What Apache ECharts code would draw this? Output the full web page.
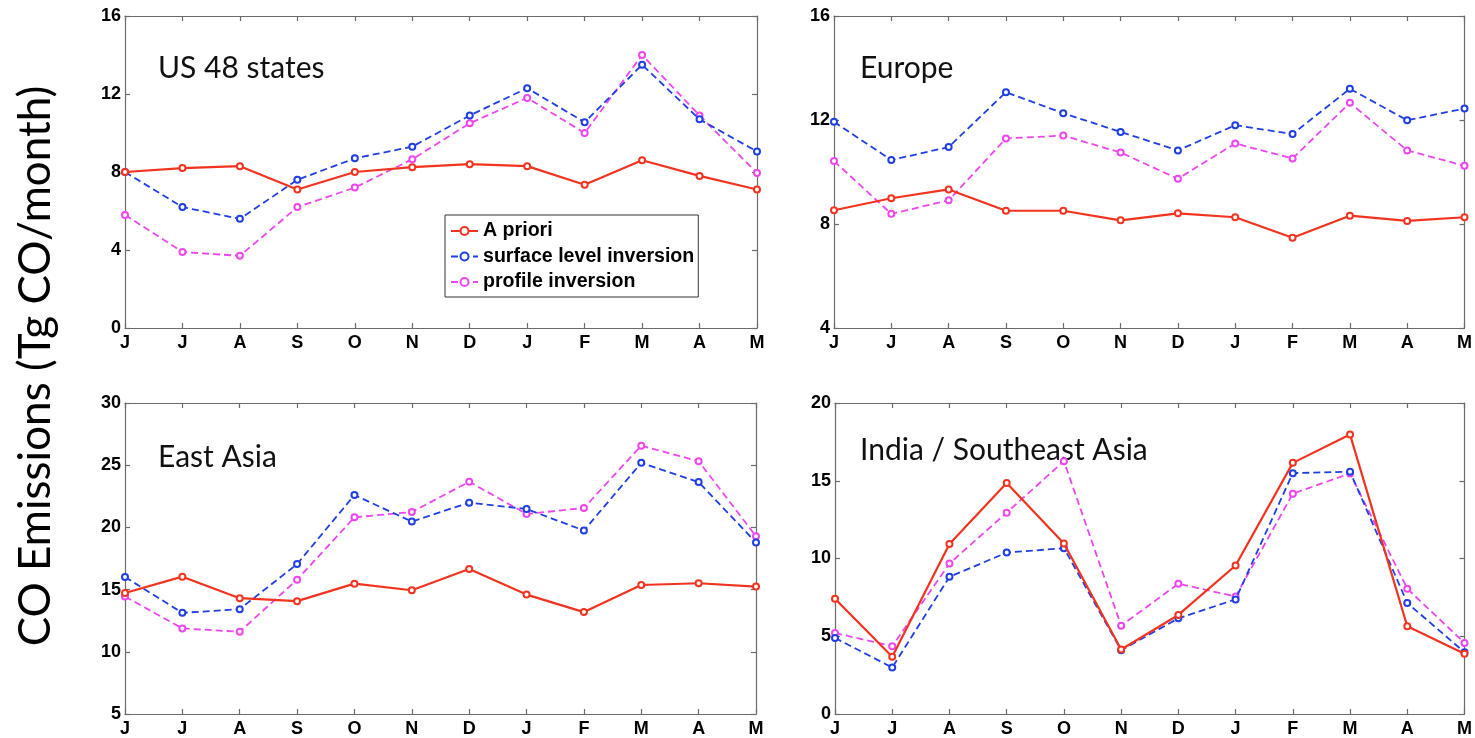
<!DOCTYPE html>
<html>
<head>
<meta charset="utf-8">
<script src="https://cdn.jsdelivr.net/npm/echarts@6/dist/echarts.min.js"></script>
<style>html,body{margin:0;padding:0;background:#fff;}#c{width:1475px;height:738px;}</style>
</head>
<body>
<div id="c"></div>
<script>
var months = ['J','J','A','S','O','N','D','J','F','M','A','M'];
var seriesNames = ['A priori','surface level inversion','profile inversion'];
var panelTitles = ['US 48 states','Europe','East Asia','India / Southeast Asia'];

var usApriori  = [8.0, 8.2, 8.3, 7.1, 8.0, 8.25, 8.4, 8.3, 7.35, 8.6, 7.8, 7.1];
var usSurface  = [8.0, 6.2, 5.6, 7.6, 8.7, 9.3, 10.9, 12.3, 10.55, 13.5, 10.7, 9.05];
var usProfile  = [5.8, 3.9, 3.7, 6.2, 7.2, 8.65, 10.5, 11.8, 10.0, 14.0, 10.9, 7.95];

var euApriori  = [8.53, 8.99, 9.33, 8.51, 8.51, 8.14, 8.41, 8.26, 7.47, 8.32, 8.12, 8.26];
var euSurface  = [11.93, 10.46, 10.96, 13.07, 12.26, 11.54, 10.83, 11.8, 11.46, 13.2, 11.99, 12.44];
var euProfile  = [10.42, 8.39, 8.91, 11.29, 11.4, 10.75, 9.74, 11.1, 10.52, 12.66, 10.83, 10.24];

var eaApriori  = [14.73, 16.04, 14.31, 14.07, 15.48, 14.95, 16.65, 14.6, 13.19, 15.37, 15.51, 15.24];
var eaSurface  = [16.01, 13.13, 13.43, 17.05, 22.6, 20.47, 21.99, 21.48, 19.75, 25.19, 23.64, 18.79];
var eaProfile  = [14.44, 11.88, 11.61, 15.8, 20.81, 21.24, 23.67, 21.08, 21.56, 26.57, 25.32, 19.29];

var inApriori  = [7.41, 3.68, 10.94, 14.85, 10.96, 4.15, 6.37, 9.55, 16.15, 17.97, 5.64, 3.87];
var inSurface  = [4.89, 2.99, 8.82, 10.38, 10.66, 4.1, 6.15, 7.37, 15.49, 15.58, 7.14, 3.97];
var inProfile  = [5.21, 4.36, 9.68, 12.95, 16.26, 5.68, 8.38, 7.56, 14.17, 15.47, 8.06, 4.57];

var yMins = [0, 4, 5, 0];
var yMaxs = [16, 16, 30, 20];
var yIntervals = [4, 4, 5, 5];

var panelData = [
  [usApriori, usSurface, usProfile],
  [euApriori, euSurface, euProfile],
  [eaApriori, eaSurface, eaProfile],
  [inApriori, inSurface, inProfile]
];

var colors = ['#f2331f', '#1f3fe3', '#ee46ee'];
var grids = [
  {left:125, top:16, width:632, height:312},
  {left:834, top:16, width:632, height:312},
  {left:125, top:403, width:631, height:311},
  {left:835, top:403, width:631, height:311}
];
var titlePos = [[158,68],[860,68],[158,457],[860,450]];

var axisLineStyle = {color:'#6b6b6b', width:1.2};
var labelFont = {color:'#000', fontFamily:'Liberation Sans, Arial, sans-serif', fontWeight:'bold', fontSize:18};

var xAxes = [], yAxes = [], series = [], graphics = [];
for (var p = 0; p < 4; p++) {
  xAxes.push({
    gridIndex:p, type:'category', data:months, boundaryGap:false, position:'bottom',
    axisLine:{show:true, onZero:false, lineStyle:axisLineStyle},
    axisTick:{show:true, inside:true, length:5, alignWithLabel:true, lineStyle:axisLineStyle},
    axisLabel:Object.assign({interval:0, margin:6}, labelFont),
    splitLine:{show:false}
  });
  xAxes.push({
    gridIndex:p, type:'category', data:months, boundaryGap:false, position:'top',
    axisLine:{show:true, onZero:false, lineStyle:axisLineStyle},
    axisTick:{show:true, inside:true, length:5, lineStyle:axisLineStyle},
    axisLabel:{show:false}, splitLine:{show:false}
  });
  yAxes.push({
    gridIndex:p, type:'value', min:yMins[p], max:yMaxs[p], interval:yIntervals[p], position:'left',
    axisLine:{show:true, onZero:false, lineStyle:axisLineStyle},
    axisTick:{show:true, inside:true, length:5, lineStyle:axisLineStyle},
    axisLabel:Object.assign({margin:4}, labelFont),
    splitLine:{show:false}
  });
  yAxes.push({
    gridIndex:p, type:'value', min:yMins[p], max:yMaxs[p], interval:yIntervals[p], position:'right',
    axisLine:{show:true, onZero:false, lineStyle:axisLineStyle},
    axisTick:{show:true, inside:true, length:5, lineStyle:axisLineStyle},
    axisLabel:{show:false}, splitLine:{show:false}
  });
  for (var s = 0; s < 3; s++) {
    series.push({
      name:seriesNames[s], type:'line', xAxisIndex:p*2, yAxisIndex:p*2,
      data:panelData[p][s], symbol:'emptyCircle', symbolSize:6, showSymbol:true,
      color:colors[s],
      lineStyle:{color:colors[s], width: s===0 ? 2.2 : 1.8, type: s===0 ? 'solid' : [7,4]},
      itemStyle:{color:colors[s], borderColor:colors[s], borderWidth:1.3},
      z: s===0 ? 3 : (s===1 ? 2 : 1),
      animation:false
    });
  }
  graphics.push({
    type:'text', x:titlePos[p][0], y:titlePos[p][1],
    style:{text:panelTitles[p], font:'30px Lato, "Open Sans", sans-serif', fill:'#111', textVerticalAlign:'middle'}
  });
}
graphics.push({
  type:'text', x:36, y:366, rotation:Math.PI/2,
  style:{text:'CO Emissions (Tg CO/month)', font:'44px Lato, "Open Sans", sans-serif', fill:'#000', textAlign:'center', textVerticalAlign:'middle'}
});

var chart = echarts.init(document.getElementById('c'), null, {renderer:'canvas'});
chart.setOption({
  animation:false,
  backgroundColor:'#fff',
  grid:grids,
  xAxis:xAxes,
  yAxis:yAxes,
  series:series,
  graphic:graphics,
  legend:{
    data:seriesNames, left:445, top:215, orient:'vertical',
    backgroundColor:'#fff', borderColor:'#333', borderWidth:1,
    padding:[6,4,5,5], itemGap:5.5, itemWidth:27, itemHeight:10,
    textStyle:{color:'#000', fontFamily:'Liberation Sans, Arial, sans-serif', fontWeight:'bold', fontSize:19.6},
    selectedMode:false
  }
});
</script>
</body>
</html>
